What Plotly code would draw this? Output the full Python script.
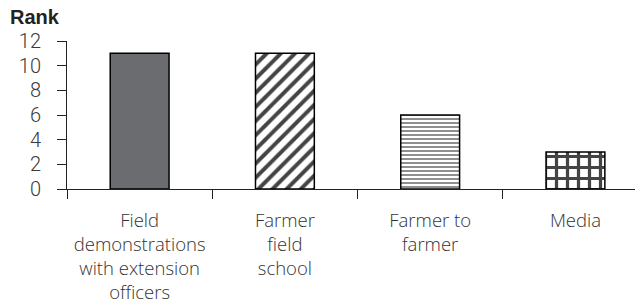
import plotly.graph_objects as go

categories = ["Field<br>demonstrations<br>with extension<br>officers",
              "Farmer<br>field<br>school",
              "Farmer to<br>farmer",
              "Media"]
ranks = [11, 11, 6, 3]
y_ticks = [0, 2, 4, 6, 8, 10, 12]

fill_colors = ["#6b6c70", "white", "white", "white"]
pattern_shapes = ["", "/", "-", "+"]
pattern_fg = ["black", "black", "#666666", "black"]
pattern_size = [8, 10, 4, 11]
pattern_solidity = [0.3, 0.4, 0.3, 0.5]

fig = go.Figure()
fig.add_trace(go.Bar(
    x=categories, y=ranks, width=0.405,
    marker=dict(color=fill_colors,
                line=dict(color="black", width=1.5),
                pattern=dict(shape=pattern_shapes, fgcolor=pattern_fg,
                             fgopacity=1,
                             size=pattern_size, solidity=pattern_solidity,
                             fillmode="overlay")),
    hoverinfo="skip",
))

x_font = dict(family="Open Sans", size=18.5, color="#333333", weight=300)
y_font = dict(family="Roboto", size=20, color="#3a3a3a", weight=300)

fig.update_layout(
    width=635, height=308,
    margin=dict(l=67, r=0, t=41, b=119, autoexpand=False),
    paper_bgcolor="white", plot_bgcolor="white",
    showlegend=False,
    title=dict(text="<b>Rank</b>", x=10 / 635, xanchor="left", xref="container",
               y=1 - 17 / 308, yanchor="middle", yref="container",
               font=dict(family="Liberation Sans", size=20, color="#222")),
    xaxis=dict(range=[-0.5, 3.41], showline=True, linecolor="#222", linewidth=1,
               ticks="outside", tickson="boundaries", ticklen=9, tickcolor="#222",
               tickfont=x_font, showgrid=False, zeroline=False,
               ticklabelstandoff=15, tickangle=0, automargin=False),
    yaxis=dict(range=[0, 12], tickvals=y_ticks, showline=True, linecolor="#222",
               linewidth=1, ticks="outside", ticklen=9, tickcolor="#222",
               tickfont=y_font, showgrid=False, zeroline=False,
               ticklabelstandoff=12, automargin=False),
)

fig.write_html("out.html", config={"displayModeBar": False},
               post_script="document.body.style.margin='0';")
